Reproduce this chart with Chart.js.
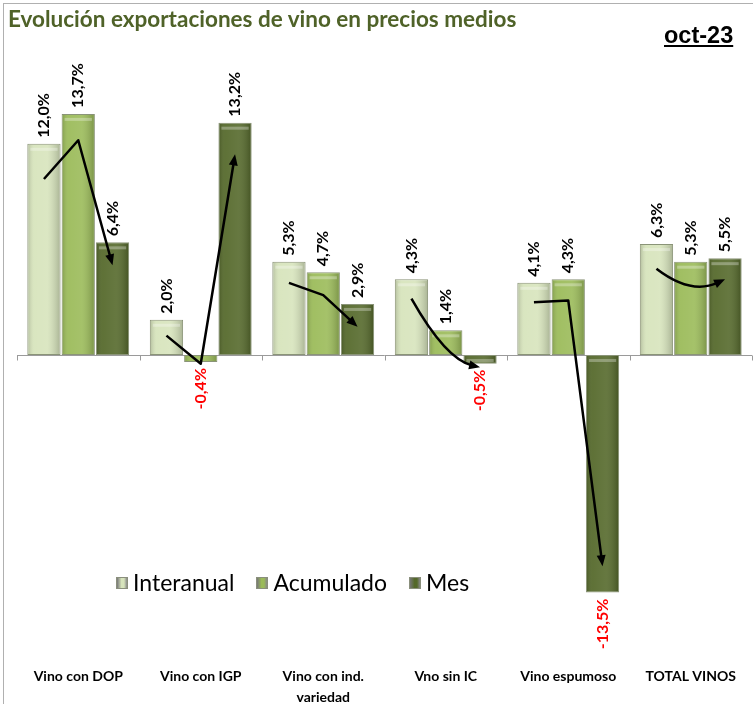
<!DOCTYPE html>
<html>
<head>
<meta charset="utf-8">
<script src="https://cdn.jsdelivr.net/npm/chart.js@4.4.0/dist/chart.umd.min.js"></script>
<style>
    body { margin: 0; background: #fff; }
    #wrap { position: relative; width: 753px; height: 704px; overflow: hidden; }
    #frame { position: absolute; left: 3px; top: 3px; width: 760px; height: 720px; border-left: 1px solid #b0b0b0; border-top: 1px solid #b0b0b0; }
    #titulo { position: absolute; left: 8px; top: 5px; font-family: Lato, sans-serif; font-weight: bold; font-size: 22.5px; color: #4f6228; white-space: nowrap; }
    #fecha { position: absolute; left: 664px; top: 22px; font-family: "Liberation Sans", Arial, sans-serif; font-weight: bold; font-size: 23.5px; text-decoration: underline; color: #000; }
    #leyenda { position: absolute; left: 116px; top: 568px; font-family: Lato, sans-serif; font-size: 23px; color: #000; white-space: nowrap; }
    #leyenda span.item { margin-right: 22px; }
    #leyenda i { display: inline-block; width: 10px; height: 10px; margin-right: 5px; border: 1px solid #8a8f7c; vertical-align: 2px; }
    canvas { position: absolute; left: 0; top: 0; }
</style>
</head>
<body>
<div id="wrap">
    <div id="frame"></div>
    <canvas id="myChart" width="753" height="704"></canvas>
    <div id="titulo">Evolución exportaciones de vino en precios medios</div>
    <div id="fecha">oct-23</div>
    <div id="leyenda"></div>
</div>
<script>
// Datos (% variacion precio medio)
const categorias = ['Vino con DOP', 'Vino con IGP', ['Vino con ind.', 'variedad'], 'Vno sin IC', 'Vino espumoso', 'TOTAL VINOS'];
const interanual = [12.0, 2.0, 5.3, 4.3, 4.1, 6.3];
const acumulado = [13.7, -0.4, 4.7, 1.4, 4.3, 5.3];
const mes = [6.4, 13.2, 2.9, -0.5, -13.5, 5.5];
const series = ['Interanual', 'Acumulado', 'Mes'];
const colores = ['#d7e4bc', '#9bbb59', '#55692b'];

// Flechas: [categoria, serie, valor]
const flechas = [
    { pts: [[0, 0, 10.0], [0, 1, 12.2], [0, 2, 5.1]], suave: false },
    { pts: [[1, 0, 1.1], [1, 1, -0.5], [1, 2, 11.4]], suave: false },
    { pts: [[2, 0, 4.1], [2, 1, 3.4], [2, 2, 1.6]], suave: false },
    { pts: [[3, 0, 3.2], [3, 1, 0.5], [3, 2, -0.7]], suave: true },
    { pts: [[4, 0, 3.0], [4, 1, 3.1], [4, 2, -12.0]], suave: false },
    { pts: [[5, 0, 4.9], [5, 1, 4.0], [5, 2, 4.3]], suave: true }
];

// Leyenda en html
const leyenda = document.getElementById('leyenda');
series.forEach((s, i) => {
    const item = document.createElement('span');
    item.className = 'item';
    const cuadro = document.createElement('i');
    cuadro.style.background = `linear-gradient(90deg, #777 0%, ${colores[i]} 45%, ${colores[i]} 70%, #888 100%)`;
    item.appendChild(cuadro);
    item.appendChild(document.createTextNode(s));
    leyenda.appendChild(item);
});

const fmt = v => v.toFixed(1).replace('.', ',') + '%';

// Eje en cero con marcas entre categorias
const ejeCero = {
    id: 'ejeCero',
    beforeDatasetsDraw(chart) {
        const { ctx, chartArea, scales } = chart;
        const y0 = Math.round(scales.y.getPixelForValue(0)) + 0.5;
        const paso = (chartArea.right - chartArea.left) / categorias.length;
        ctx.save();
        ctx.strokeStyle = '#9a9a9a';
        ctx.lineWidth = 1;
        ctx.beginPath();
        ctx.moveTo(chartArea.left, y0);
        ctx.lineTo(chartArea.right, y0);
        for (let i = 0; i <= categorias.length; i++) {
            const x = Math.round(chartArea.left + i * paso) + 0.5;
            ctx.moveTo(x, y0);
            ctx.lineTo(x, y0 + 5);
        }
        ctx.stroke();
        ctx.restore();
    }
};

// Sombreado de las barras, flechas y etiquetas
const extras = {
    id: 'extras',
    afterDatasetsDraw(chart) {
        const { ctx, scales } = chart;
        ctx.save();
        chart.data.datasets.forEach((ds, d) => {
            chart.getDatasetMeta(d).data.forEach(bar => {
                const l = bar.x - bar.width / 2, r = bar.x + bar.width / 2;
                const top = Math.min(bar.y, bar.base), bot = Math.max(bar.y, bar.base);
                const g = ctx.createLinearGradient(l, 0, r, 0);
                g.addColorStop(0, 'rgba(0,0,0,0.18)');
                g.addColorStop(0.2, 'rgba(255,255,255,0.06)');
                g.addColorStop(0.6, 'rgba(255,255,255,0.1)');
                g.addColorStop(1, 'rgba(0,0,0,0.22)');
                ctx.fillStyle = g;
                ctx.fillRect(l + 1, top + 1, bar.width - 2, bot - top - 2);
                if (bot - top > 8) {
                    ctx.fillStyle = 'rgba(255,255,255,0.3)';
                    ctx.fillRect(l + 3, top + 4, bar.width - 6, 3);
                }
            });
        });

        // flechas
        ctx.strokeStyle = '#000';
        ctx.fillStyle = '#000';
        ctx.lineWidth = 2.5;
        ctx.lineJoin = 'round';
        flechas.forEach(f => {
            const p = f.pts.map(([c, d, v]) => ({ x: chart.getDatasetMeta(d).data[c].x, y: scales.y.getPixelForValue(v) }));
            const fin = p[p.length - 1];
            let desde;
            ctx.beginPath();
            ctx.moveTo(p[0].x, p[0].y);
            if (f.suave) {
                const cx = 2 * p[1].x - (p[0].x + p[2].x) / 2;
                const cy = 2 * p[1].y - (p[0].y + p[2].y) / 2;
                desde = { x: cx, y: cy };
            } else {
                desde = p[p.length - 2];
            }
            const ang = Math.atan2(fin.y - desde.y, fin.x - desde.x);
            const corte = { x: fin.x - Math.cos(ang) * 8, y: fin.y - Math.sin(ang) * 8 };
            if (f.suave) {
                ctx.quadraticCurveTo(desde.x, desde.y, corte.x, corte.y);
            } else {
                for (let i = 1; i < p.length - 1; i++) ctx.lineTo(p[i].x, p[i].y);
                ctx.lineTo(corte.x, corte.y);
            }
            ctx.stroke();
            ctx.beginPath();
            ctx.moveTo(fin.x, fin.y);
            ctx.lineTo(fin.x - Math.cos(ang) * 11 + Math.sin(ang) * 4.5, fin.y - Math.sin(ang) * 11 - Math.cos(ang) * 4.5);
            ctx.lineTo(fin.x - Math.cos(ang) * 11 - Math.sin(ang) * 4.5, fin.y - Math.sin(ang) * 11 + Math.cos(ang) * 4.5);
            ctx.closePath();
            ctx.fill();
        });

        // etiquetas giradas
        ctx.font = 'bold 16px Lato, sans-serif';
        ctx.textBaseline = 'middle';
        chart.data.datasets.forEach((ds, d) => {
            chart.getDatasetMeta(d).data.forEach((bar, i) => {
                const v = ds.data[i];
                ctx.save();
                if (v >= 0) {
                    ctx.translate(bar.x, bar.y - 6);
                    ctx.textAlign = 'left';
                    ctx.fillStyle = '#000';
                } else {
                    ctx.translate(bar.x, bar.y + 6);
                    ctx.textAlign = 'right';
                    ctx.fillStyle = '#ff0000';
                }
                ctx.rotate(-Math.PI / 2);
                ctx.fillText(fmt(v), 0, 0);
                ctx.restore();
            });
        });
        ctx.restore();
    }
};

new Chart(document.getElementById('myChart'), {
    type: 'bar',
    data: {
        labels: categorias,
        datasets: [interanual, acumulado, mes].map((vals, i) => ({
            label: series[i],
            data: vals,
            backgroundColor: colores[i],
            borderColor: '#8a9478',
            borderWidth: 1,
            borderSkipped: false,
            categoryPercentage: 0.84,
            barPercentage: 0.97
        }))
    },
    options: {
        responsive: false,
        animation: false,
        layout: { padding: { left: 17, right: 1, top: 91, bottom: 0 } },
        plugins: {
            legend: { display: false },
            tooltip: { enabled: false }
        },
        scales: {
            y: { display: false, min: -17.05, max: 15 },
            x: {
                grid: { display: false },
                border: { display: false },
                afterFit: scale => { scale.height = 49; },
                ticks: {
                    color: '#000',
                    maxRotation: 0,
                    autoSkip: false,
                    padding: 3,
                    font: { family: 'Lato, sans-serif', weight: 'bold', size: 14, lineHeight: 1.5 }
                }
            }
        }
    },
    plugins: [ejeCero, extras]
});
</script>
</body>
</html>
